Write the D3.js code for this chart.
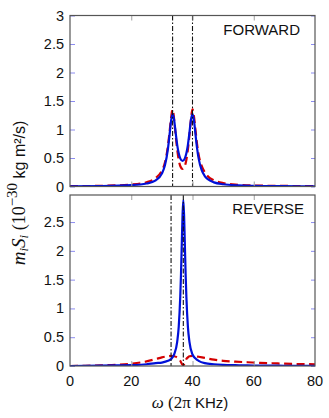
<!DOCTYPE html>
<html>
<head>
<meta charset="utf-8">
<script src="https://cdn.jsdelivr.net/npm/d3@7"></script>
<style>
  body { margin: 0; background: #fff; }
  svg { display: block; }
</style>
</head>
<body>
<div class="board"></div>
<script>
// omega in units of 2*pi KHz, spectra in 1e-30 kg m^2/s

/////// DATA ///////////////////////////////////////

let forwardOmega = [0, 10, 20, 25, 28, 30, 31, 32, 32.5, 33, 33.5, 34, 34.5, 35, 35.5, 36, 36.75, 37.5, 38, 38.5, 39, 39.5, 40, 40.5, 41, 41.5, 42, 43, 44, 45, 47, 50, 55, 60, 70, 80];
let forwardBlue = [0.004, 0.008, 0.023, 0.052, 0.109, 0.226, 0.371, 0.669, 0.904, 1.15, 1.275, 1.17, 0.943, 0.731, 0.582, 0.494, 0.448, 0.494, 0.582, 0.731, 0.943, 1.17, 1.275, 1.15, 0.904, 0.669, 0.493, 0.286, 0.184, 0.128, 0.072, 0.039, 0.019, 0.011, 0.005, 0.003];
let forwardRed = [0.005, 0.012, 0.035, 0.075, 0.15, 0.28, 0.42, 0.72, 0.95, 1.2, 1.35, 1.18, 0.9, 0.65, 0.47, 0.36, 0.31, 0.36, 0.47, 0.65, 0.9, 1.18, 1.36, 1.22, 0.98, 0.74, 0.56, 0.36, 0.25, 0.18, 0.11, 0.06, 0.03, 0.018, 0.01, 0.006];
let forwardMarks = [33.5, 40];

let reverseOmega = [0, 5, 10, 15, 20, 25, 28, 30, 32, 33, 34, 35, 35.5, 36, 36.25, 36.5, 36.75, 37, 37.25, 37.5, 37.75, 38, 38.5, 39, 40, 41, 42, 44, 47, 50, 54, 58, 62, 66, 70, 75, 80];
let reverseBlue = [0, 0.002, 0.005, 0.01, 0.015, 0.03, 0.05, 0.06, 0.09, 0.12, 0.2, 0.42, 0.68, 1.2, 1.6, 2.12, 2.62, 2.88, 2.62, 2.12, 1.6, 1.2, 0.68, 0.42, 0.2, 0.13, 0.09, 0.05, 0.03, 0.02, 0.014, 0.01, 0.008, 0.006, 0.004, 0.003, 0.002];
let reverseRed = [0, 0.003, 0.01, 0.02, 0.04, 0.08, 0.12, 0.15, 0.17, 0.175, 0.17, 0.15, 0.13, 0.09, 0.065, 0.04, 0.02, 0.01, 0.03, 0.06, 0.09, 0.12, 0.15, 0.17, 0.175, 0.17, 0.16, 0.14, 0.11, 0.09, 0.075, 0.065, 0.055, 0.048, 0.04, 0.034, 0.029];
let reverseMarks = [33, 37];

let xTicks = [0, 20, 40, 60, 80];
let yTicks = [0, 0.5, 1, 1.5, 2, 2.5, 3];

/////// SETUP ///////////////////////////////////////

let width = 329, height = 418;
let left = 70, right = 315;

let svg = d3.select('.board').append('svg')
    .attr('width', width)
    .attr('height', height);

let x = d3.scaleLinear().domain([0, 80]).range([left, right]);

let panels = [
  { name: 'FORWARD', omega: forwardOmega, blue: forwardBlue, red: forwardRed, marks: forwardMarks,
    top: 15.5, bottom: 186.5, ymax: 3, yticks: yTicks, labelX: 300, labelY: 35 },
  { name: 'REVERSE', omega: reverseOmega, blue: reverseBlue, red: reverseRed, marks: reverseMarks,
    top: 195, bottom: 366, ymax: 2.97, yticks: yTicks.slice(0, 6), labelX: 304, labelY: 214 }
];

/////// PANELS ///////////////////////////////////////

let drawPanel = function(p, i) {
  let y = d3.scaleLinear().domain([0, p.ymax]).range([p.bottom, p.top]);
  let g = svg.append('g');

  g.append('clipPath').attr('id', 'clip' + i)
    .append('rect')
      .attr('x', left).attr('y', p.top)
      .attr('width', right - left).attr('height', p.bottom - p.top);

  let plot = g.append('g').attr('clip-path', `url(#clip${i})`);

  let pts = k => p.omega.map((w, j) => [w, p[k][j]]);
  let line = d3.line()
      .x(d => x(d[0]))
      .y(d => y(d[1]))
      .curve(d3.curveMonotoneX);

  plot.append('path')
      .attr('d', line(pts('red')))
      .attr('fill', 'none')
      .attr('stroke', '#d40000')
      .attr('stroke-width', 2.2)
      .attr('stroke-dasharray', '8,4.5');

  plot.append('path')
      .attr('d', line(pts('blue')))
      .attr('fill', 'none')
      .attr('stroke', '#0010d8')
      .attr('stroke-width', 2.2);

  plot.selectAll('line.mark')
    .data(p.marks)
    .enter().append('line')
      .classed('mark', true)
      .attr('x1', d => x(d)).attr('x2', d => x(d))
      .attr('y1', p.top).attr('y2', p.bottom)
      .attr('stroke', '#111')
      .attr('stroke-width', 1.1)
      .attr('stroke-dasharray', '5,2,1.5,2');

  // y ticks, inside on both sides
  let yAxisL = d3.axisRight(y).tickValues(p.yticks).tickSize(5).tickFormat('');
  let yAxisR = d3.axisLeft(y).tickValues(p.yticks).tickSize(4).tickFormat('');
  g.append('g').attr('transform', `translate(${left},0)`).call(yAxisL)
    .call(s => s.select('.domain').remove())
    .selectAll('line').attr('stroke', '#8c8cf0');
  g.append('g').attr('transform', `translate(${right},0)`).call(yAxisR)
    .call(s => s.select('.domain').remove())
    .selectAll('line').attr('stroke', '#8c8cf0');

  // x ticks, inside on top and bottom
  let inner = xTicks.slice(1, -1);
  g.append('g').attr('transform', `translate(0,${p.bottom})`)
    .call(d3.axisTop(x).tickValues(inner).tickSize(5).tickFormat(''))
    .call(s => s.select('.domain').remove())
    .selectAll('line').attr('stroke', '#a0a0a0');
  g.append('g').attr('transform', `translate(0,${p.top})`)
    .call(d3.axisBottom(x).tickValues(inner).tickSize(5).tickFormat(''))
    .call(s => s.select('.domain').remove())
    .selectAll('line').attr('stroke', '#a0a0a0');

  // y tick labels
  g.selectAll('text.ylab')
    .data(p.yticks)
    .enter().append('text')
      .classed('ylab', true)
      .attr('x', left - 6)
      .attr('y', d => y(d) + 5)
      .attr('text-anchor', 'end')
      .style('font-family', 'Liberation Sans, Arial, sans-serif')
      .style('font-size', '14.5px')
      .attr('fill', '#111')
      .text(d => d);

  // frame
  g.append('rect')
      .attr('x', left).attr('y', p.top)
      .attr('width', right - left).attr('height', p.bottom - p.top)
      .attr('fill', 'none')
      .attr('stroke', '#555')
      .attr('stroke-width', 1.2);

  g.append('text')
      .attr('x', p.labelX).attr('y', p.labelY)
      .attr('text-anchor', 'end')
      .style('font-family', 'Liberation Sans, Arial, sans-serif')
      .style('font-size', '15px')
      .attr('fill', '#111')
      .text(p.name);
};

panels.forEach(drawPanel);

/////// AXIS LABELS ///////////////////////////////////////

svg.selectAll('text.xlab')
  .data(xTicks)
  .enter().append('text')
    .classed('xlab', true)
    .attr('x', d => x(d))
    .attr('y', 386)
    .attr('text-anchor', 'middle')
    .style('font-family', 'Liberation Sans, Arial, sans-serif')
    .style('font-size', '14.5px')
    .attr('fill', '#111')
    .text(d => d);

let serif = 'Liberation Serif, Times New Roman, serif';
let sans = 'Liberation Sans, Arial, sans-serif';

let xl = svg.append('text')
    .attr('x', 190).attr('y', 408)
    .attr('text-anchor', 'middle')
    .attr('fill', '#111');
xl.append('tspan').style('font-family', serif).style('font-style', 'italic').style('font-size', '17px').text('ω');
xl.append('tspan').style('font-family', serif).style('font-size', '17px').text(' (2π');
xl.append('tspan').style('font-family', sans).style('font-size', '15px').text(' KHz)');

let yl = svg.append('text')
    .attr('transform', 'translate(25,193) rotate(-90)')
    .attr('text-anchor', 'middle')
    .attr('fill', '#111');
yl.append('tspan').style('font-family', serif).style('font-style', 'italic').style('font-size', '19px').text('m');
yl.append('tspan').style('font-family', serif).style('font-style', 'italic').style('font-size', '13px').attr('dy', 3).text('i');
yl.append('tspan').style('font-family', serif).style('font-style', 'italic').style('font-size', '19px').attr('dy', -3).text('S');
yl.append('tspan').style('font-family', serif).style('font-style', 'italic').style('font-size', '13px').attr('dy', 3).text('i');
yl.append('tspan').style('font-family', serif).style('font-size', '18px').attr('dy', -3).text(' (10');
yl.append('tspan').style('font-family', serif).style('font-size', '15px').attr('dy', -8).text('−30');
yl.append('tspan').style('font-family', sans).style('font-size', '16px').attr('dy', 8).text('  kg m²/s)');
</script>
</body>
</html>
